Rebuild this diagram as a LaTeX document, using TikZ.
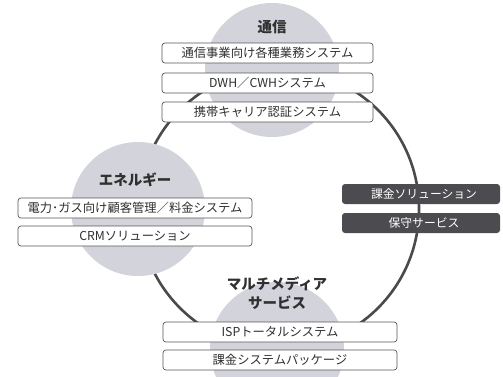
\documentclass[tikz,border=0pt]{standalone}
\usepackage{fontspec}
\setmainfont{Noto Sans CJK JP}
\definecolor{ringc}{HTML}{4A4A4A}
\definecolor{discc}{HTML}{D3D3DB}
\definecolor{boxline}{HTML}{555555}
\definecolor{txt}{HTML}{303030}
\definecolor{darkbox}{HTML}{4C4C50}
\begin{document}
\begin{tikzpicture}[x=1pt,y=-1pt,
  ring/.style={circle, draw=ringc, line width=2.6pt, inner sep=0, minimum size=280pt},
  disc/.style={circle, fill=discc, inner sep=0, minimum size=134pt},
  wbox/.style={draw=boxline, fill=white, rounded corners=3pt, line width=0.7pt,
    minimum height=20pt, inner sep=0, text=txt, font=\fontsize{12.3}{14}\selectfont},
  dbox/.style={fill=darkbox, rounded corners=3pt, minimum height=20pt, inner sep=0,
    text=white, font=\fontsize{11.8}{14}\selectfont},
  title/.style={text=txt, align=center, font=\bfseries\fontsize{14.5}{19}\selectfont}]
\useasboundingbox (0,0) rectangle (503,376);
\node[ring] (ring) at (279,209) {};
\node[disc] (dtop) at (272,70) {};
\node[disc] (dleft) at (138,209) {};
\node[disc] (dbot) at (277,349) {};
\node[title] (t1) at (272,27) {通信};
\node[wbox, minimum width=211pt] (b1) at (267.5,53) {通信事業向け各種業務システム};
\node[wbox, minimum width=211pt] (b2) at (267.5,83) {DWH／CWHシステム};
\node[wbox, minimum width=211pt] (b3) at (267.5,112) {携帯キャリア認証システム};
\node[title] (t2) at (135,180) {エネルギー};
\node[wbox, minimum width=234pt] (b4) at (135,208) {電力･ガス向け顧客管理／料金システム};
\node[wbox, minimum width=234pt] (b5) at (135,236) {CRMソリューション};
\node[title] (t3) at (277,293) {マルチメディア\\サービス};
\node[wbox, minimum width=234pt] (b6) at (280,332) {ISPトータルシステム};
\node[wbox, minimum width=234pt] (b7) at (280,360) {課金システムパッケージ};
\node[dbox, minimum width=158pt] (r1) at (421,194) {\hspace*{6pt}課金ソリューション};
\node[dbox, minimum width=158pt] (r2) at (421,223) {\hspace*{6pt}保守サービス};
\end{tikzpicture}
\end{document}
